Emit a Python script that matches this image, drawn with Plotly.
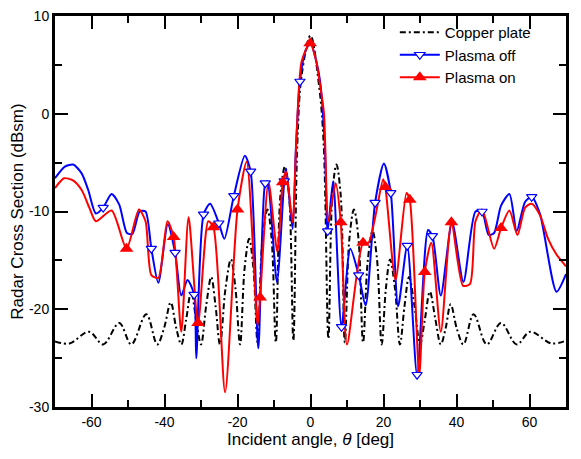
import plotly.graph_objects as go

# ---------------- data ----------------
copper_x = [-70, -66.0, -60.7, -56.8, -52.4, -49.1, -45.0, -42.0, -40.1, -38.3, -36.8, -35.4,
            -34.05, -32.7, -31.35, -30.0, -28.6, -27.2, -26.0, -24.8, -23.3, -21.8, -20.55, -19.3,
            -18.05, -16.8, -15.65, -14.5, -13.15, -11.8, -10.65, -9.5, -8.25, -7.0, -5.85, -4.7,
            -3.6, -2.4, 0.0, 2.3, 3.6, 4.9, 6.0, 7.1, 8.25, 9.4, 10.65, 11.9, 13.15, 14.4,
            15.7, 17.0, 18.25, 19.5, 20.65, 21.8, 23.15, 24.5, 25.75, 27.0, 28.5, 30.0,
            31.35, 32.7, 34.2, 35.7, 37.0, 38.4, 40.1, 41.9, 44.7, 48.3, 52.2, 56.5, 60.2, 66.0, 70]
copper_y = [-23.3, -23.5, -22.3, -23.6, -21.4, -23.6, -20.5, -23.6, -21.9, -19.3, -21.9, -23.6,
            -21.0, -18.2, -21.0, -23.6, -19.7, -16.7, -19.7, -23.6, -17.9, -14.9, -17.9, -23.6,
            -15.8, -12.8, -15.8, -23.4, -12.8, -9.8, -12.8, -23.4, -8.4, -5.4, -8.4, -23.2,
            -3.0, 4.0, 8.0, 3.0, -3.0, -23.0, -8.2, -5.2, -8.2, -23.4, -12.8, -9.8, -12.8, -23.4,
            -15.0, -12.0, -15.0, -23.6, -17.9, -14.9, -17.9, -23.6, -19.7, -16.7, -19.7, -23.6,
            -21.0, -18.2, -21.0, -23.6, -22.0, -19.5, -22.0, -23.6, -20.5, -23.6, -21.4, -23.6, -22.3, -23.5, -23.2]

off_x = [-70, -67.3, -65.0, -62.7, -60.9, -58.8, -56.8, -54.5, -52.4, -50.3, -48.8, -46.8, -45.2,
         -43.6, -41.7, -39.1, -37.1, -35.4, -33.7, -31.9, -31.3, -29.3, -27.5, -25.1, -23.6,
         -21.0, -18.0, -16.4, -14.3, -12.4, -11.8, -9.2, -7.2, -6.7, -4.9, -4.0, -2.9, -1.5,
         0.0, 1.5, 2.6, 3.9, 4.7, 6.2, 8.5, 10.9, 13.2, 15.1, 17.7, 20.1, 22.0, 24.0, 26.5,
         29.2, 32.2, 33.4, 35.7, 38.8, 41.9, 45.2, 47.0, 48.8, 50.3, 52.2, 54.5, 56.5, 58.8,
         60.6, 62.9, 67.4, 70]
off_y = [-6.6, -5.4, -5.2, -6.1, -7.8, -10.2, -9.6, -8.2, -9.3, -12.2, -12.3, -10.0, -10.0,
         -13.8, -17.3, -11.3, -14.2, -18.6, -17.0, -18.5, -25.0, -10.3, -9.2, -11.2, -12.8,
         -8.4, -4.3, -5.9, -24.0, -7.1, -6.9, -17.2, -6.9, -5.6, -11.8, -3.5, 3.3, 6.3,
         7.3, 5.5, 3.4, -3.0, -12.0, -6.9, -21.8, -13.8, -16.5, -19.6, -9.1, -5.1, -8.1, -19.7, -13.5,
         -26.7, -11.9, -12.5, -18.6, -11.1, -17.2, -10.0, -10.0, -12.4, -12.2, -9.4, -8.2, -12.0, -9.0,
         -8.5, -10.3, -18.2, -16.4]
off_mark_x = [-56.8, -43.6, -37.1, -31.9, -29.3, -25.1, -21.0, -16.4, -12.4, -7.2, -2.9,
              4.7, 8.5, 13.2, 17.7, 22.0, 26.5, 29.2, 33.4, 47.0, 60.6]
off_mark_y = [-9.6, -13.8, -14.2, -18.5, -10.3, -11.2, -8.4, -5.9, -7.1, -6.9, 3.3,
              -12.0, -21.8, -16.5, -9.1, -8.1, -13.5, -26.7, -12.5, -10.0, -8.5]

on_x = [-70, -67.5, -65.2, -62.7, -60.6, -58.8, -54.5, -50.4, -47.0, -45.2, -43.6, -41.7,
        -39.2, -37.5, -35.4, -33.4, -30.8, -28.0, -26.6, -23.4, -20.0, -17.5, -14.5, -13.8,
        -11.5, -9.1, -7.6, -6.7, -4.9, -3.9, -2.4, -0.1, 1.5, 2.6, 3.7, 4.9, 6.9, 8.3, 10.0,
        14.4, 15.9, 19.9, 20.5, 23.3, 26.3, 27.2, 29.8, 31.3, 33.1, 35.7, 38.6, 41.8, 43.7,
        45.2, 47.0, 50.3, 52.2, 54.5, 56.7, 58.8, 60.6, 62.9, 65.1, 67.4, 70]
on_y = [-7.6, -6.6, -6.8, -7.8, -9.6, -11.0, -9.9, -13.8, -9.8, -11.0, -16.5, -16.8,
        -11.0, -12.6, -22.3, -10.6, -21.4, -11.0, -11.6, -28.5, -9.8, -4.9, -21.6, -18.8,
        -7.0, -14.1, -7.0, -5.9, -11.1, -3.0, 5.4, 7.2, 5.5, 3.0, 0.0, -11.0, -7.1, -11.1, -23.6,
        -13.2, -13.2, -6.7, -7.5, -17.0, -8.1, -8.8, -26.7, -16.2, -13.2, -22.3, -11.1, -17.6, -17.4,
        -11.0, -9.8, -13.8, -11.7, -9.9, -12.4, -9.6, -9.2, -10.4, -12.8, -14.4, -15.6]
on_mark_x = [-50.4, -37.5, -30.8, -26.6, -20.0, -13.8, -7.6, -0.1, 8.3, 14.4, 20.5, 27.2, 31.3, 38.6, 52.2]
on_mark_y = [-13.8, -12.6, -21.4, -11.6, -9.8, -18.8, -7.0, 7.2, -11.1, -13.2, -7.5, -8.8, -16.2, -11.1, -11.7]

x_ticks = [-60, -40, -20, 0, 20, 40, 60]
x_tick_text = ["-60", "-40", "-20", "0", "20", "40", "60"]
y_ticks = [10, 0, -10, -20, -30]
y_tick_text = ["10", "0", "-10", "-20", "-30"]

FONT = "Arial, Liberation Sans, sans-serif"
BLUE = "#0000ff"
RED = "#ff0000"

fig = go.Figure()

# lines
fig.add_trace(go.Scatter(x=copper_x, y=copper_y, mode="lines", showlegend=False,
                         line=dict(color="black", width=2, dash="6px,3px,2px,3px", shape="spline", smoothing=1)))
fig.add_trace(go.Scatter(x=off_x, y=off_y, mode="lines", showlegend=False,
                         line=dict(color=BLUE, width=2, shape="spline", smoothing=0.7)))
fig.add_trace(go.Scatter(x=on_x, y=on_y, mode="lines", showlegend=False,
                         line=dict(color=RED, width=2, shape="spline", smoothing=0.7)))
# markers
fig.add_trace(go.Scatter(x=off_mark_x, y=off_mark_y, mode="markers", showlegend=False,
                         marker=dict(symbol="triangle-down", size=9, color="white",
                                     line=dict(color=BLUE, width=1.2))))
fig.add_trace(go.Scatter(x=on_mark_x, y=on_mark_y, mode="markers", showlegend=False,
                         marker=dict(symbol="triangle-up", size=12, color=RED,
                                     line=dict(color=RED, width=0))))
# legend entries
fig.add_trace(go.Scatter(x=[None], y=[None], mode="lines", name="Copper plate",
                         line=dict(color="black", width=2, dash="6px,3px,2px,3px")))
fig.add_trace(go.Scatter(x=[None], y=[None], mode="lines+markers", name="Plasma off",
                         line=dict(color=BLUE, width=2),
                         marker=dict(symbol="triangle-down", size=9, color="white",
                                     line=dict(color=BLUE, width=1.2))))
fig.add_trace(go.Scatter(x=[None], y=[None], mode="lines+markers", name="Plasma on",
                         line=dict(color=RED, width=2),
                         marker=dict(symbol="triangle-up", size=12, color=RED)))

axis_common = dict(showline=True, linecolor="black", linewidth=3, mirror="ticks",
                   ticks="inside", tickcolor="black", tickwidth=2, ticklen=13,
                   showgrid=False, zeroline=False, automargin=False,
                   ticklabeloverflow="allow",
                   tickfont=dict(family=FONT, size=14, color="black"))

fig.update_xaxes(range=[-70, 70], tickmode="array", tickvals=x_ticks, ticktext=x_tick_text,
                 minor=dict(dtick=10, tick0=0, ticks="inside", ticklen=7, tickwidth=2, tickcolor="black"),
                 title=dict(text="Incident angle, <i>θ</i> [deg]", font=dict(family=FONT, size=17, color="black"),
                            standoff=3),
                 **axis_common)
fig.update_yaxes(range=[-30, 10], tickmode="array", tickvals=y_ticks, ticktext=y_tick_text,
                 minor=dict(dtick=5, tick0=0, ticks="inside", ticklen=7, tickwidth=2, tickcolor="black"),
                 title=dict(text="Radar Cross Section (dBsm)", font=dict(family=FONT, size=17, color="black"),
                            standoff=8),
                 **axis_common)

# the page body adds an 8px offset, so the figure is sized to fit inside the window
fig.update_layout(
    width=573, height=451,
    margin=dict(l=47, r=15, t=8, b=52),
    paper_bgcolor="white", plot_bgcolor="white",
    legend=dict(x=0.665, y=1.0, xanchor="left", yanchor="top", bgcolor="rgba(0,0,0,0)",
                font=dict(family=FONT, size=15, color="black"), tracegroupgap=0, itemwidth=40),
)

fig.write_html("out.html")
